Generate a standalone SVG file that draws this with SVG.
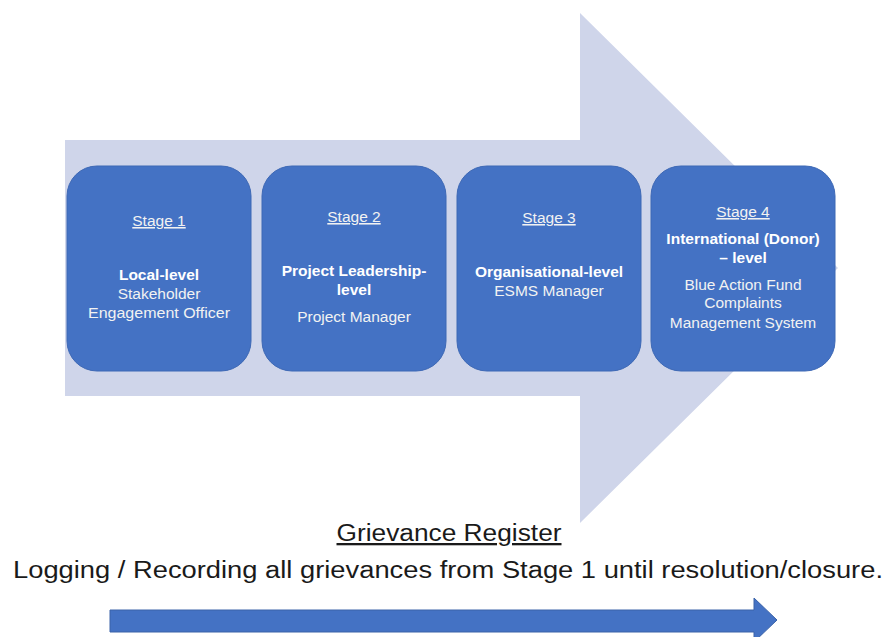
<svg xmlns="http://www.w3.org/2000/svg" width="885" height="637" viewBox="0 0 885 637">
<style>
.box{fill:#4472C4;stroke:#3d68b5;stroke-width:1}
.t{font-family:"Liberation Sans",Arial,sans-serif;fill:#f2f2f2;text-anchor:middle;font-size:15.5px}
.b{font-weight:bold;fill:#ffffff}
.u{text-decoration:underline}
.bt{font-family:"Liberation Sans",Arial,sans-serif;fill:#1a1a1a;text-anchor:middle;font-size:23px}
</style>
<rect width="885" height="637" fill="#ffffff"/>
<g id="big-arrow">
<path d="M65,140 H580 V13 L838,268 L580,523 V396 H65 Z" fill="#CFD5EA"/>
</g>
<g id="stage1">
<rect class="box" x="67" y="166" width="184" height="205" rx="30"/>
<text class="t u" x="159" y="226">Stage 1</text>
<text class="t b" x="159" y="280">Local-level</text>
<text class="t" x="159" y="299">Stakeholder</text>
<text class="t" x="159" y="318" textLength="142" lengthAdjust="spacingAndGlyphs">Engagement Officer</text>
</g>
<g id="stage2">
<rect class="box" x="262" y="166" width="184" height="205" rx="30"/>
<text class="t u" x="354" y="222">Stage 2</text>
<text class="t b" x="354" y="276">Project Leadership-</text>
<text class="t b" x="354" y="295">level</text>
<text class="t" x="354" y="322">Project Manager</text>
</g>
<g id="stage3">
<rect class="box" x="457" y="166" width="184" height="205" rx="30"/>
<text class="t u" x="549" y="223">Stage 3</text>
<text class="t b" x="549" y="277">Organisational-level</text>
<text class="t" x="549" y="296">ESMS Manager</text>
</g>
<g id="stage4">
<rect class="box" x="651" y="166" width="184" height="205" rx="30"/>
<text class="t u" x="743" y="217">Stage 4</text>
<text class="t b" x="743" y="244">International (Donor)</text>
<text class="t b" x="743" y="263">– level</text>
<text class="t" x="743" y="290">Blue Action Fund</text>
<text class="t" x="743" y="308">Complaints</text>
<text class="t" x="743" y="328">Management System</text>
</g>
<g id="register">
<text class="bt u" x="449" y="541" textLength="225" lengthAdjust="spacingAndGlyphs">Grievance Register</text>
<text class="bt" x="448" y="578" textLength="870" lengthAdjust="spacingAndGlyphs">Logging / Recording all grievances from Stage 1 until resolution/closure.</text>
</g>
<g id="connectors">
<path d="M110,610 H754 V598 L777,620 L754,642 V632 H110 Z" fill="#4472C4" stroke="#3a62a8" stroke-width="1"/>
</g>
</svg>
